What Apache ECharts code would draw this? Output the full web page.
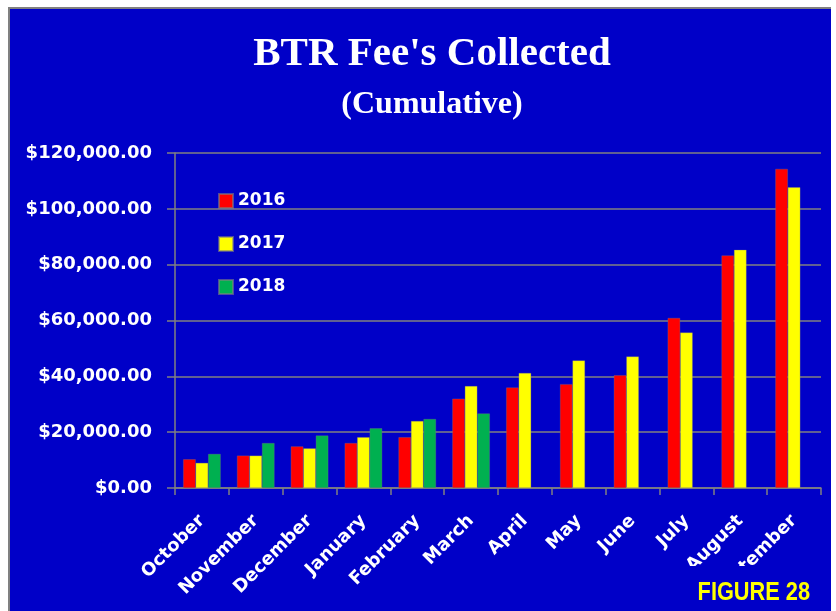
<!DOCTYPE html>
<html>
<head>
<meta charset="utf-8">
<script src="https://cdn.jsdelivr.net/npm/echarts@6/dist/echarts.min.js"></script>
<style>
  body { margin: 0; background: #fff; }
  #wrap { position: relative; width: 836px; height: 611px; background: #fff; }
  #panel {
    position: absolute; left: 8px; top: 7px; width: 823px; height: 604px;
    box-sizing: border-box; border-top: 2px solid #808080; border-left: 2px solid #808080;
    background: #0000c8;
  }
  #chart { position: absolute; left: 0; top: 0; width: 836px; height: 611px; }
</style>
</head>
<body>
<div id="wrap">
  <div id="panel"></div>
  <div id="chart"></div>
</div>
<script>
// data
const months = ['October', 'November', 'December', 'January', 'February', 'March',
  'April', 'May', 'June', 'July', 'August', 'September'];
const fees2016 = [10300, 11600, 14900, 16100, 18200, 32000, 36000, 37200, 40400, 60900, 83300, 114300];
const fees2017 = [9000, 11600, 14200, 18200, 24000, 36500, 41200, 45700, 47100, 55700, 85300, 107700];
const fees2018 = [12200, 16100, 18800, 21400, 24700, 26700, null, null, null, null, null, null];
const yTicks = { min: 0, max: 120000, step: 20000 };

const white = '#ffffff';
const gray = '#808080';
const blue = '#0000c8';
const sans = 'DejaVu Sans';

let myChart = echarts.init(document.getElementById('chart'));

function money(v) {
  return '$' + v.toLocaleString('en-US', { minimumFractionDigits: 2, maximumFractionDigits: 2 });
}

let option = {
  backgroundColor: 'transparent',
  animation: false,
  color: ['#ff0000', '#ffff00', '#00b050'],
  title: {
    text: "BTR Fee's Collected",
    subtext: '(Cumulative)',
    left: 427,
    textAlign: 'center',
    top: 29,
    itemGap: 14,
    textStyle: { fontFamily: 'Liberation Serif', fontSize: 41, fontWeight: 'bold', color: white },
    subtextStyle: { fontFamily: 'Liberation Serif', fontSize: 32, fontWeight: 'bold', color: white },
  },
  legend: {
    orient: 'vertical',
    left: 213,
    top: 186,
    itemWidth: 14,
    itemHeight: 14,
    itemGap: 23,
    icon: 'rect',
    textStyle: { color: white, fontFamily: sans, fontWeight: 'bold', fontSize: 17, lineHeight: 20 },
    data: ['2016', '2017', '2018'],
  },
  grid: { left: 175, right: 15, top: 153, bottom: 123, containLabel: false },
  xAxis: {
    type: 'category',
    data: months,
    axisLine: { lineStyle: { color: gray, width: 1.5 } },
    axisTick: { show: true, length: 7, lineStyle: { color: gray, width: 1.5 } },
    axisLabel: {
      interval: 0,
      rotate: 45,
      margin: 30,
      color: white,
      fontFamily: sans,
      fontWeight: 'bold',
      fontSize: 18,
    },
  },
  yAxis: {
    type: 'value',
    min: yTicks.min,
    max: yTicks.max,
    interval: yTicks.step,
    axisLine: { show: true, lineStyle: { color: gray, width: 1.5 } },
    axisTick: { show: true, length: 8, lineStyle: { color: gray, width: 1.5 } },
    splitLine: { lineStyle: { color: gray, width: 1.5 } },
    axisLabel: {
      margin: 23,
      color: white,
      fontFamily: sans,
      fontWeight: 'bold',
      fontSize: 18,
      formatter: money,
    },
  },
  series: [
    { name: '2016', type: 'bar', data: fees2016, barWidth: 12.5, barGap: '0%',
      itemStyle: { borderColor: 'rgba(128,128,128,0.6)', borderWidth: 0.5 } },
    { name: '2017', type: 'bar', data: fees2017, barWidth: 12.5, barGap: '0%',
      itemStyle: { borderColor: 'rgba(128,128,128,0.6)', borderWidth: 0.5 } },
    { name: '2018', type: 'bar', data: fees2018, barWidth: 12.5, barGap: '0%',
      itemStyle: { borderColor: 'rgba(128,128,128,0.6)', borderWidth: 0.5 } },
  ],
  graphic: [
    // the figure caption box sits over the last axis labels
    { type: 'rect', z: 100, shape: { x: 665, y: 566, width: 166, height: 45 }, style: { fill: blue } },
    { type: 'text', z: 101, x: 810, y: 593, scaleX: 0.87,
      style: { text: 'FIGURE 28', align: 'right', verticalAlign: 'middle', fill: '#ffff00',
        font: 'bold 25px "Liberation Sans Narrow", "Liberation Sans", sans-serif' } },
  ],
};
myChart.setOption(option);
</script>
</body>
</html>
